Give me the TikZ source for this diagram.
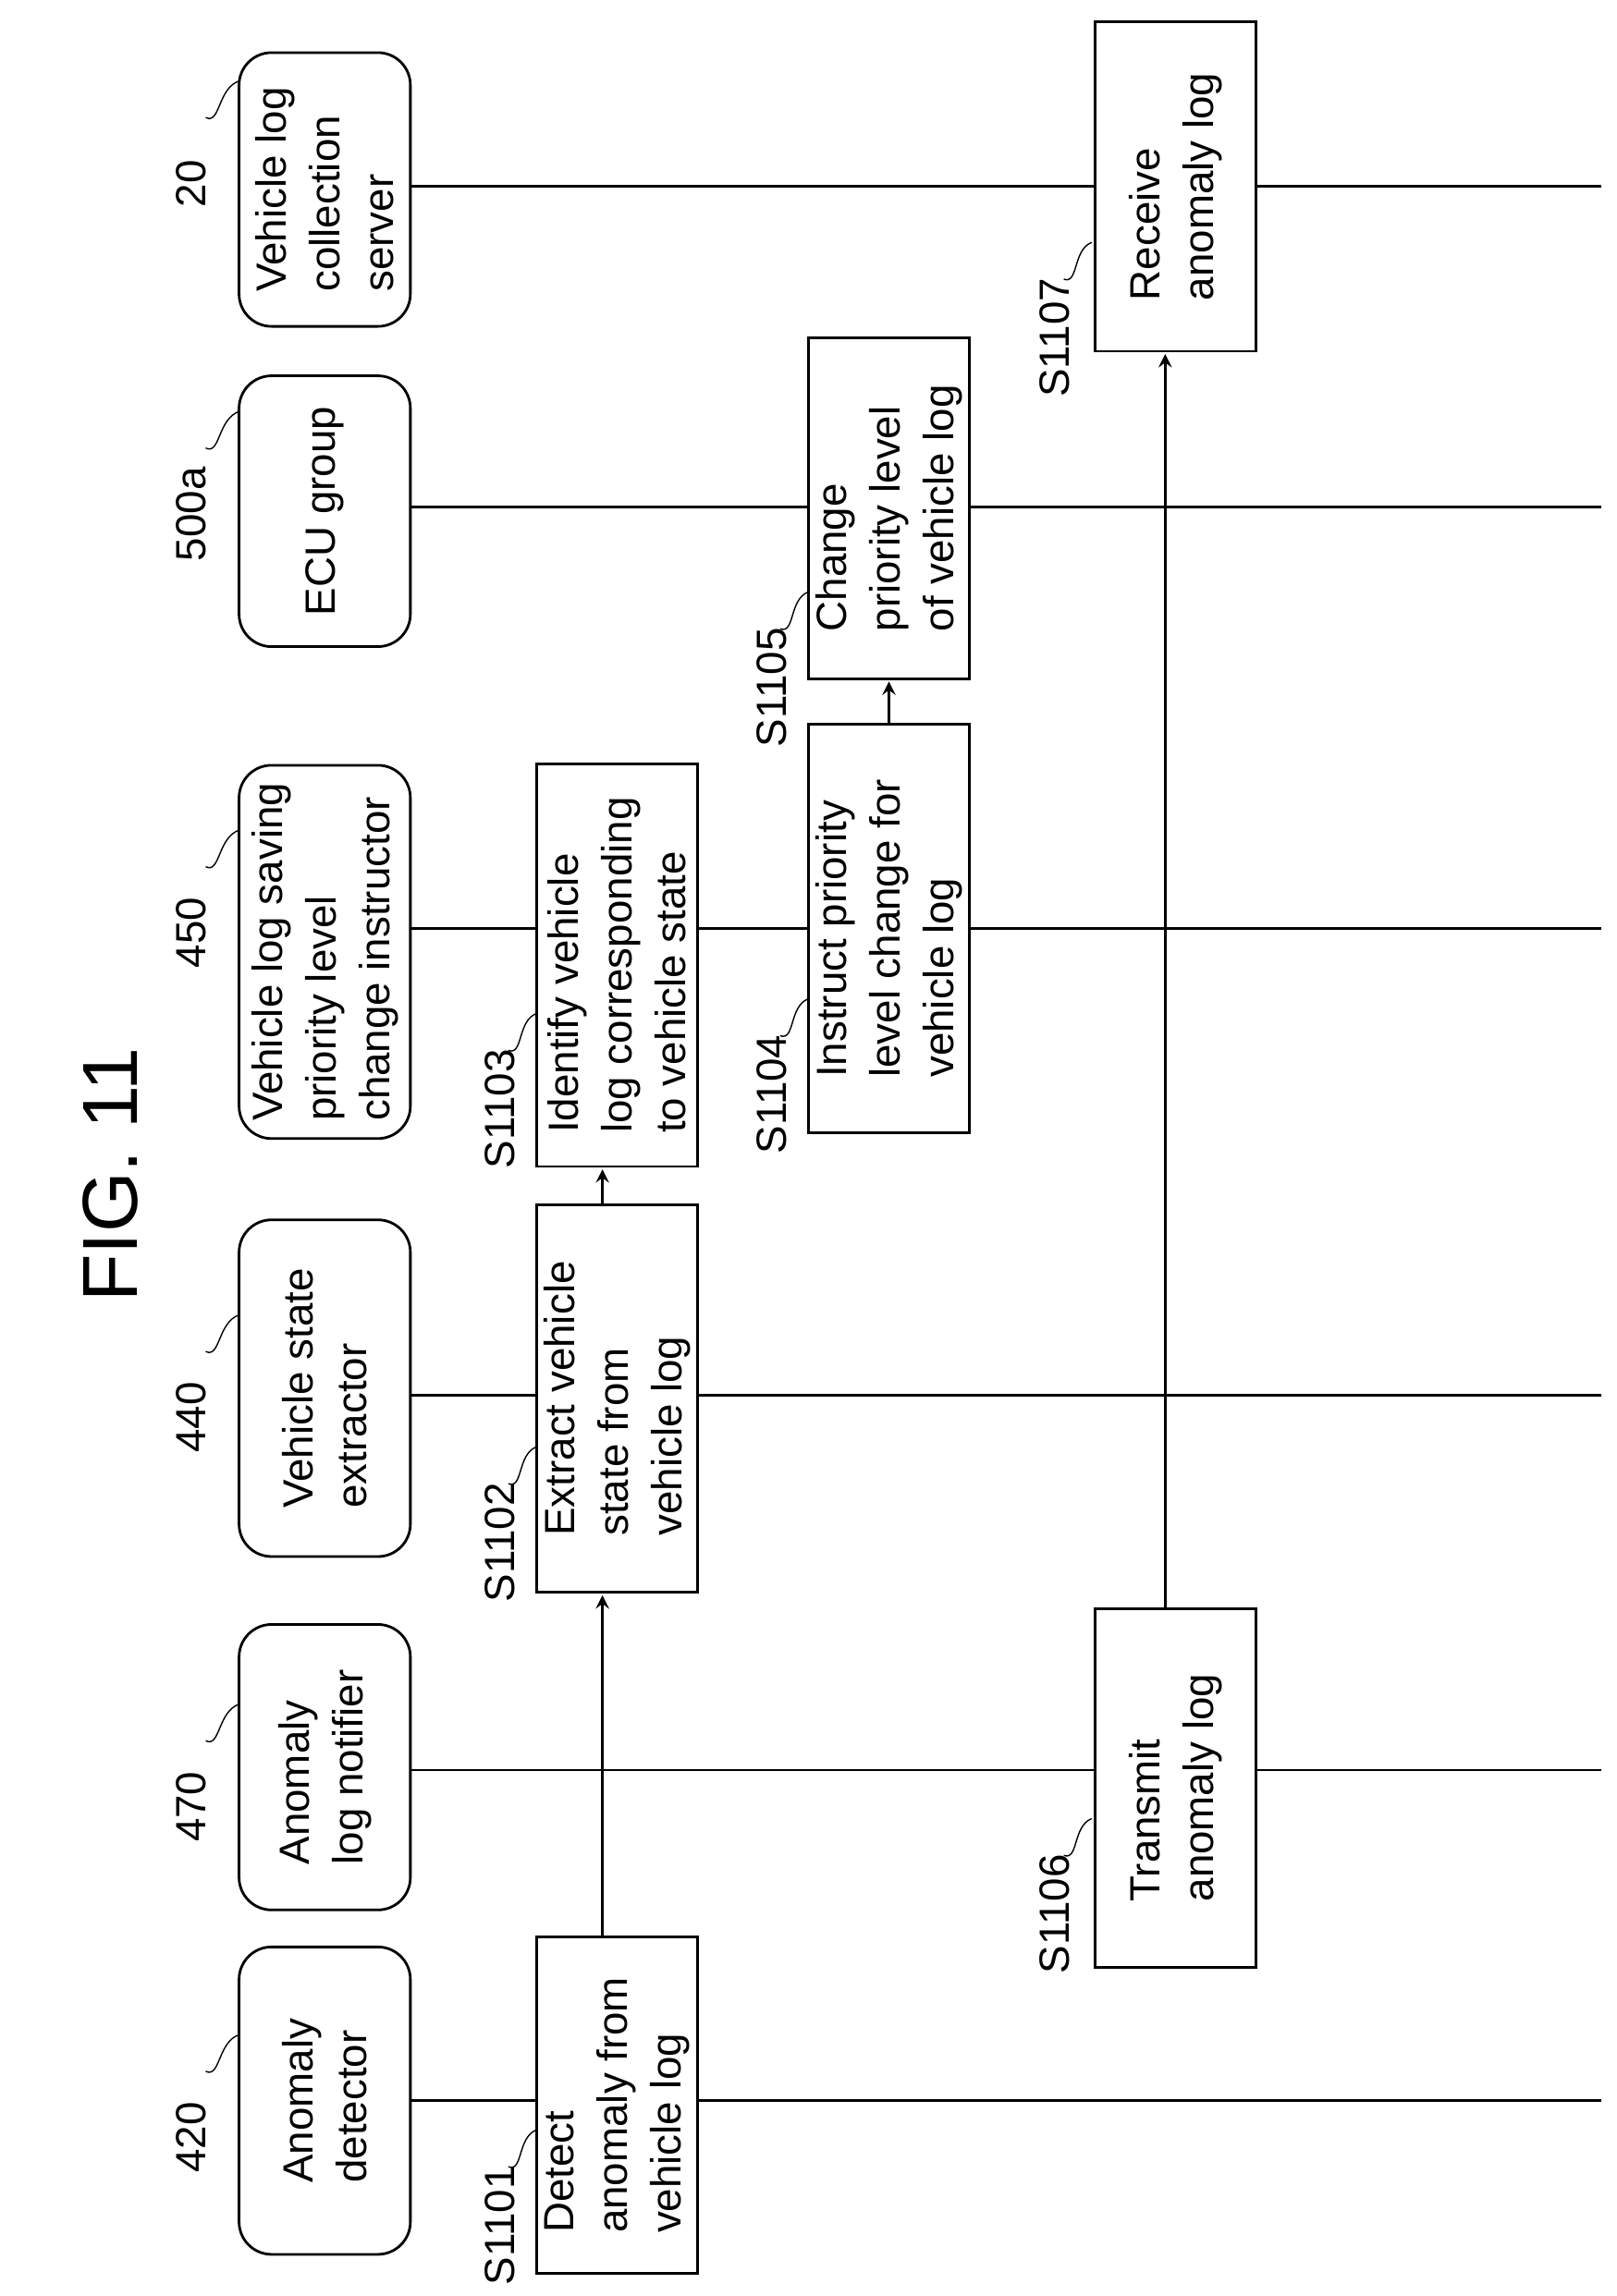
\documentclass[tikz,border=0pt]{standalone}
\usepackage{fontspec}
\setmainfont{Liberation Sans}
\newcommand\uu{0.4504pt}
\begin{document}
\begin{tikzpicture}[x=0.01589cm,y=-0.01589cm,
 hdr/.style={draw,thick,rounded corners=10pt,rotate=90,align=left,font=\fontsize{13}{16.5}\selectfont,inner sep=2pt},
 prc/.style={draw,thick,rotate=90,align=left,font=\fontsize{13}{16.5}\selectfont,inner sep=2pt},
 lbl/.style={rotate=90,font=\fontsize{13}{16}\selectfont},
 ll/.style={thick},
 ar/.style={thick,->,>=stealth},
 sq/.style={thin}]
\useasboundingbox (0,0) rectangle (1100,1563);
\node[rotate=90,font=\fontsize{24}{28}\selectfont] (fig) at (75,800) {FIG. 11};
% headers
\node[hdr,minimum width=210*\uu,minimum height=117*\uu] (h420) at (221,1430) {Anomaly\\detector};
\node[hdr,minimum width=195*\uu,minimum height=117*\uu] (h470) at (221,1203) {Anomaly\\log notifier};
\node[hdr,minimum width=230*\uu,minimum height=117*\uu] (h440) at (221,945) {Vehicle state\\extractor};
\node[hdr,minimum width=255*\uu,minimum height=117*\uu] (h450) at (221,648) {Vehicle log saving\\priority level\\change instructor};
\node[hdr,minimum width=185*\uu,minimum height=117*\uu] (h500) at (221,348) {ECU group};
\node[hdr,minimum width=187*\uu,minimum height=117*\uu] (h20) at (221,129) {Vehicle log\\collection\\server};
% lifelines
\foreach \h/\y in {h420/1430,h470/1205,h440/950,h450/632,h500/345,h20/127}{
  \coordinate (e\h) at (1090,\y);
  \draw[ll] (280,\y) -- (e\h);}
% header labels
\foreach \n/\y/\t in {n420/1455/420,n470/1230/470,n440/965/440,n450/635/450,n500/350/500a,n20/125/20}{
  \node[lbl] (\n) at (130,\y) {\t};
  \draw[sq] (140,\y-45) .. controls (150,\y-40) and (148,\y-65) .. (163,\y-70);}
% process boxes
\node[prc,fill=white,minimum width=230*\uu,minimum height=110*\uu] (s1) at (420,1433) {Detect\\anomaly from\\vehicle log};
\node[prc,fill=white,minimum width=265*\uu,minimum height=110*\uu] (s2) at (420,952) {Extract vehicle\\state from\\vehicle log};
\node[prc,fill=white,minimum width=275*\uu,minimum height=110*\uu] (s3) at (420,657) {Identify vehicle\\log corresponding\\to vehicle state};
\node[prc,fill=white,minimum width=279*\uu,minimum height=110*\uu] (s4) at (605,632) {Instruct priority\\level change for\\vehicle log};
\node[prc,fill=white,minimum width=233*\uu,minimum height=110*\uu] (s5) at (605,346) {Change\\priority level\\of vehicle log};
\node[prc,fill=white,minimum width=245*\uu,minimum height=110*\uu] (s6) at (800,1217) {Transmit\\anomaly log};
\node[prc,fill=white,minimum width=225*\uu,minimum height=110*\uu] (s7) at (800,127) {Receive\\anomaly log};
% step labels
\foreach \l/\x/\y/\t in {l1/340/1515/S1101,l2/340/1050/S1102,l3/340/755/S1103,l4/525/745/S1104,l5/525/468/S1105,l6/718/1303/S1106,l7/718/230/S1107}{
  \node[lbl] (\l) at (\x,\y) {\t};
  \draw[sq] (\x+6,\y-40) .. controls (\x+16,\y-36) and (\x+12,\y-60) .. (\x+25,\y-65);}
% arrows
\draw[ar] (410,1318) -- (410,1086);
\draw[ar] (410,820) -- (410,796);
\draw[ar] (605,493) -- (605,464);
\draw[ar] (793,1095) -- (793,241);
\end{tikzpicture}
\end{document}
